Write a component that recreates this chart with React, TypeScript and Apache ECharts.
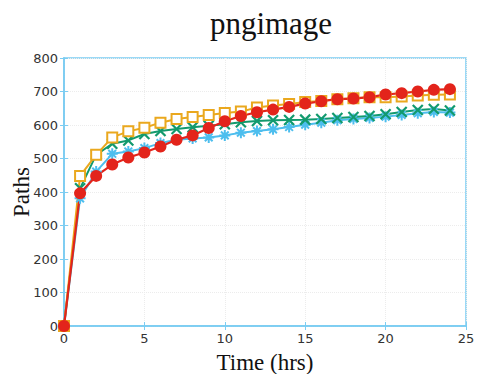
import React, { useEffect, useRef } from "react";
import * as echarts from "echarts";

const hours = [0, 1, 2, 3, 4, 5, 6, 7, 8, 9, 10, 11, 12, 13, 14, 15, 16, 17, 18, 19, 20, 21, 22, 23, 24];
const blueStar = [0, 381, 461, 514, 521, 531, 546, 556, 560, 563, 569, 577, 582, 587, 594, 601, 607, 614, 618, 621, 625, 630, 635, 639, 637];
const greenX = [0, 411, 511, 544, 554, 573, 582, 588, 593, 598, 602, 608, 612, 614, 615, 616, 618, 621, 624, 627, 632, 639, 645, 648, 643];
const yellowSquare = [0, 448, 511, 563, 581, 592, 607, 618, 624, 630, 636, 640, 652, 658, 663, 669, 672, 677, 680, 683, 683, 685, 688, 690, 691];
const redCircle = [0, 396, 448, 482, 503, 518, 536, 556, 569, 591, 611, 627, 638, 646, 654, 664, 671, 677, 679, 683, 691, 695, 700, 705, 707];

const AXIS = "#7ccdf2";

function pairs(ys: number[]) {
  return hours.map((h, i) => [h, ys[i]]);
}

export default function App() {
  const ref = useRef<HTMLDivElement>(null);
  useEffect(() => {
    if (!ref.current) return;
    const chart = echarts.init(ref.current, null, { renderer: "svg" });
    const tickLabel = { color: "#333", fontSize: 13, fontFamily: "DejaVu Sans" };
    const split = { show: true, lineStyle: { color: "#ececec", type: "dotted" as const, width: 1 } };
    chart.setOption({
      animation: false,
      backgroundColor: "#fff",
      title: {
        text: "pngimage",
        left: 266,
        textAlign: "center",
        top: 3,
        textStyle: { fontFamily: "Liberation Serif", fontSize: 31, fontWeight: "normal", color: "#111" },
      },
      grid: {
        left: 64,
        right: 11,
        top: 58,
        bottom: 48,
        containLabel: false,
        outerBoundsMode: "none",
        show: true,
        borderColor: AXIS,
        borderWidth: 1.5,
      },
      xAxis: [
        {
          type: "value",
          min: 0,
          max: 25,
          interval: 5,
          position: "bottom",
          name: "Time (hrs)",
          nameLocation: "middle",
          nameGap: 25,
          nameTextStyle: { fontFamily: "Liberation Serif", fontSize: 23, color: "#111" },
          axisLine: { show: true, lineStyle: { color: AXIS, width: 1.5 } },
          axisTick: { show: true, inside: true, length: 4, lineStyle: { color: AXIS } },
          axisLabel: { ...tickLabel, margin: 6 },
          splitLine: split,
        },
        {
          type: "value",
          min: 0,
          max: 25,
          interval: 5,
          position: "top",
          axisLine: { show: true, lineStyle: { color: AXIS, width: 1.5 } },
          axisTick: { show: true, inside: true, length: 4, lineStyle: { color: AXIS } },
          axisLabel: { show: false },
          splitLine: { show: false },
        },
      ],
      yAxis: [
        {
          type: "value",
          min: 0,
          max: 800,
          interval: 100,
          position: "left",
          name: "Paths",
          nameLocation: "middle",
          nameGap: 31,
          nameMoveOverlap: false,
          nameTextStyle: { fontFamily: "Liberation Serif", fontSize: 23, color: "#111" },
          axisLine: { show: true, lineStyle: { color: AXIS, width: 1.5 } },
          axisTick: { show: true, inside: true, length: 4, lineStyle: { color: AXIS } },
          axisLabel: { ...tickLabel, margin: 6 },
          splitLine: split,
        },
        {
          type: "value",
          min: 0,
          max: 800,
          interval: 100,
          position: "right",
          axisLine: { show: true, lineStyle: { color: AXIS, width: 1.5 } },
          axisTick: { show: true, inside: true, length: 4, lineStyle: { color: AXIS } },
          axisLabel: { show: false },
          splitLine: { show: false },
        },
      ],
      series: [
        {
          type: "line",
          data: pairs(blueStar),
          symbol: "path://M0,-10L0,10M-10,0L10,0M-7,-7L7,7M-7,7L7,-7",
          symbolSize: 11,
          lineStyle: { color: "#4dbeee", width: 2 },
          itemStyle: { color: "#4dbeee", borderColor: "#4dbeee", borderWidth: 2 },
        },
        {
          type: "line",
          data: pairs(greenX),
          symbol: "path://M-10,-10L10,10M-10,10L10,-10",
          symbolSize: 10,
          lineStyle: { color: "#129a6e", width: 2 },
          itemStyle: { color: "#129a6e", borderColor: "#129a6e", borderWidth: 2.2 },
        },
        {
          type: "line",
          data: pairs(yellowSquare),
          symbol: "rect",
          symbolSize: 10,
          lineStyle: { color: "#eaa81e", width: 2 },
          itemStyle: { color: "#fff", borderColor: "#eaa81e", borderWidth: 2 },
        },
        {
          type: "line",
          data: pairs(redCircle),
          symbol: "circle",
          symbolSize: 12,
          lineStyle: { color: "#e3241b", width: 2.2 },
          itemStyle: { color: "#e3241b", borderColor: "#e3241b", borderWidth: 0 },
        },
      ],
    });
    return () => chart.dispose();
  }, []);
  return <div ref={ref} style={{ width: 477, height: 374, position: "absolute", left: 0, top: 0 }} />;
}
